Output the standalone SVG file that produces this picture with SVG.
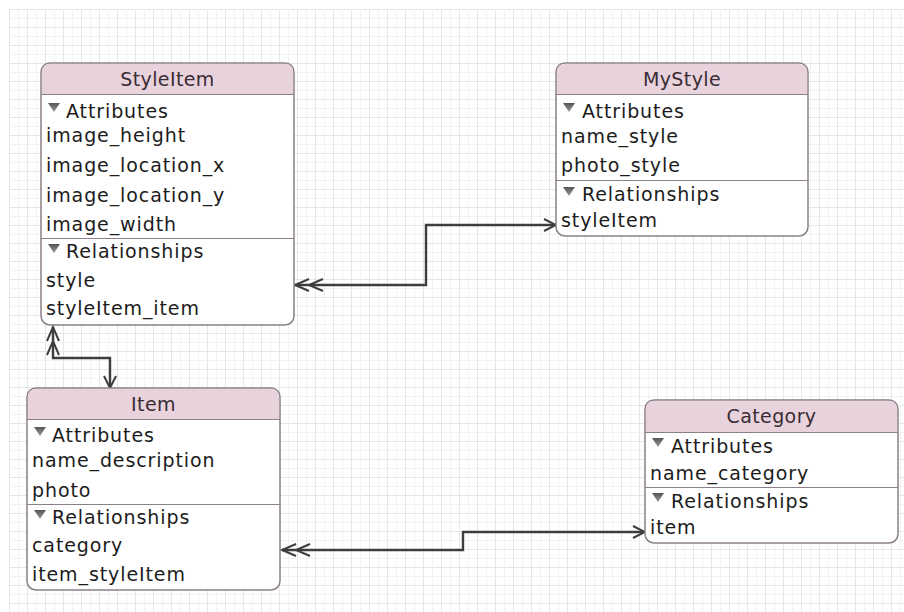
<svg xmlns="http://www.w3.org/2000/svg" width="904" height="612" viewBox="0 0 904 612">
  <defs>
    <pattern id="grid" x="9" y="9" width="18" height="18" patternUnits="userSpaceOnUse">
      <path d="M0,0.5 H18 M0.5,0 V18" fill="none" stroke="#e6e6e6" stroke-width="1"/>
      <path d="M0,9.5 H18 M9.5,0 V18" fill="none" stroke="#f2f2f2" stroke-width="1"/>
    </pattern>
    <marker id="one" viewBox="0 0 20 16" refX="18" refY="8" markerWidth="20" markerHeight="16" markerUnits="userSpaceOnUse" orient="auto">
      <path d="M6,2 L18,8 L6,14" fill="none" stroke="#3e3e3e" stroke-width="2"/>
    </marker>
    <marker id="many" viewBox="0 0 34 16" refX="32" refY="8" markerWidth="34" markerHeight="16" markerUnits="userSpaceOnUse" orient="auto-start-reverse">
      <path d="M18,2 L32,8 L18,14 M4,2 L18,8 L4,14" fill="none" stroke="#3e3e3e" stroke-width="2"/>
    </marker>
    <linearGradient id="tri" x1="0" y1="0" x2="0" y2="1">
      <stop offset="0" stop-color="#555"/>
      <stop offset="1" stop-color="#9a9a9a"/>
    </linearGradient>
  </defs>
  <style>
    .box { fill: #ffffff; stroke: #8c8088; stroke-width: 1.5; }
    .head { fill: #e8d3dc; }
    .sep { stroke: #8c8088; stroke-width: 1.2; }
    .title { font-family: "DejaVu Sans", "Liberation Sans", sans-serif; font-size: 19px; letter-spacing: 0.4px; fill: #3a2c33; text-anchor: middle; }
    .row { font-family: "DejaVu Sans", "Liberation Sans", sans-serif; font-size: 19px; letter-spacing: 0.9px; fill: #1c1c1c; }
    .tri { fill: url(#tri); }
    .wire { fill: none; stroke: #3e3e3e; stroke-width: 2.4; }
  </style>

  <!-- background grid -->
  <rect width="904" height="612" fill="#ffffff"/>
  <rect x="9" y="9" width="895" height="603" fill="url(#grid)"/>

  <!-- relationships -->
  <g id="connectors">
    <path class="wire" d="M295,285 H426 V225 H556" marker-start="url(#many)" marker-end="url(#one)"/>
    <path class="wire" d="M53,327 V358 H110 V388" marker-start="url(#many)" marker-end="url(#one)"/>
    <path class="wire" d="M282,550 H463 V532 H645" marker-start="url(#many)" marker-end="url(#one)"/>
  </g>

  <!-- StyleItem entity -->
  <g id="StyleItem">
    <rect class="box" x="41" y="63" width="253" height="262" rx="9"/>
    <path class="head" d="M42,94 V72 Q42,64 50,64 H285 Q293,64 293,72 V94 Z"/>
    <line class="sep" x1="41" y1="94.5" x2="294" y2="94.5"/>
    <line class="sep" x1="41" y1="238.5" x2="294" y2="238.5"/>
    <text class="title" x="167.5" y="86">StyleItem</text>
    <path class="tri" d="M48,103 H60 L54,112 Z"/>
    <text class="row" x="66" y="118">Attributes</text>
    <text class="row" x="46" y="142">image_height</text>
    <text class="row" x="46" y="172">image_location_x</text>
    <text class="row" x="46" y="202">image_location_y</text>
    <text class="row" x="46" y="231">image_width</text>
    <path class="tri" d="M48,244 H60 L54,253 Z"/>
    <text class="row" x="66" y="258">Relationships</text>
    <text class="row" x="46" y="287">style</text>
    <text class="row" x="46" y="315">styleItem_item</text>
  </g>

  <!-- MyStyle entity -->
  <g id="MyStyle">
    <rect class="box" x="556" y="63" width="252" height="173" rx="9"/>
    <path class="head" d="M557,94 V72 Q557,64 565,64 H799 Q807,64 807,72 V94 Z"/>
    <line class="sep" x1="556" y1="94.5" x2="808" y2="94.5"/>
    <line class="sep" x1="556" y1="180.5" x2="808" y2="180.5"/>
    <text class="title" x="682" y="86">MyStyle</text>
    <path class="tri" d="M563,103 H575 L569,112 Z"/>
    <text class="row" x="582" y="118">Attributes</text>
    <text class="row" x="561" y="143">name_style</text>
    <text class="row" x="561" y="172">photo_style</text>
    <path class="tri" d="M563,187 H575 L569,196 Z"/>
    <text class="row" x="582" y="201">Relationships</text>
    <text class="row" x="561" y="227">styleItem</text>
  </g>

  <!-- Item entity -->
  <g id="Item">
    <rect class="box" x="27" y="388" width="253" height="202" rx="9"/>
    <path class="head" d="M28,419 V397 Q28,389 36,389 H271 Q279,389 279,397 V419 Z"/>
    <line class="sep" x1="27" y1="419.5" x2="280" y2="419.5"/>
    <line class="sep" x1="27" y1="504.5" x2="280" y2="504.5"/>
    <text class="title" x="153.5" y="411">Item</text>
    <path class="tri" d="M34,427 H46 L40,436 Z"/>
    <text class="row" x="52" y="442">Attributes</text>
    <text class="row" x="32" y="467">name_description</text>
    <text class="row" x="32" y="497">photo</text>
    <path class="tri" d="M34,510 H46 L40,519 Z"/>
    <text class="row" x="52" y="524">Relationships</text>
    <text class="row" x="32" y="552">category</text>
    <text class="row" x="32" y="581">item_styleItem</text>
  </g>

  <!-- Category entity -->
  <g id="Category">
    <rect class="box" x="645" y="400" width="253" height="143" rx="9"/>
    <path class="head" d="M646,432 V409 Q646,401 654,401 H889 Q897,401 897,409 V432 Z"/>
    <line class="sep" x1="645" y1="432.5" x2="898" y2="432.5"/>
    <line class="sep" x1="645" y1="487.5" x2="898" y2="487.5"/>
    <text class="title" x="771.5" y="423">Category</text>
    <path class="tri" d="M652,438 H664 L658,447 Z"/>
    <text class="row" x="671" y="453">Attributes</text>
    <text class="row" x="650" y="480">name_category</text>
    <path class="tri" d="M652,493 H664 L658,502 Z"/>
    <text class="row" x="671" y="508">Relationships</text>
    <text class="row" x="650" y="534">item</text>
  </g>
</svg>
